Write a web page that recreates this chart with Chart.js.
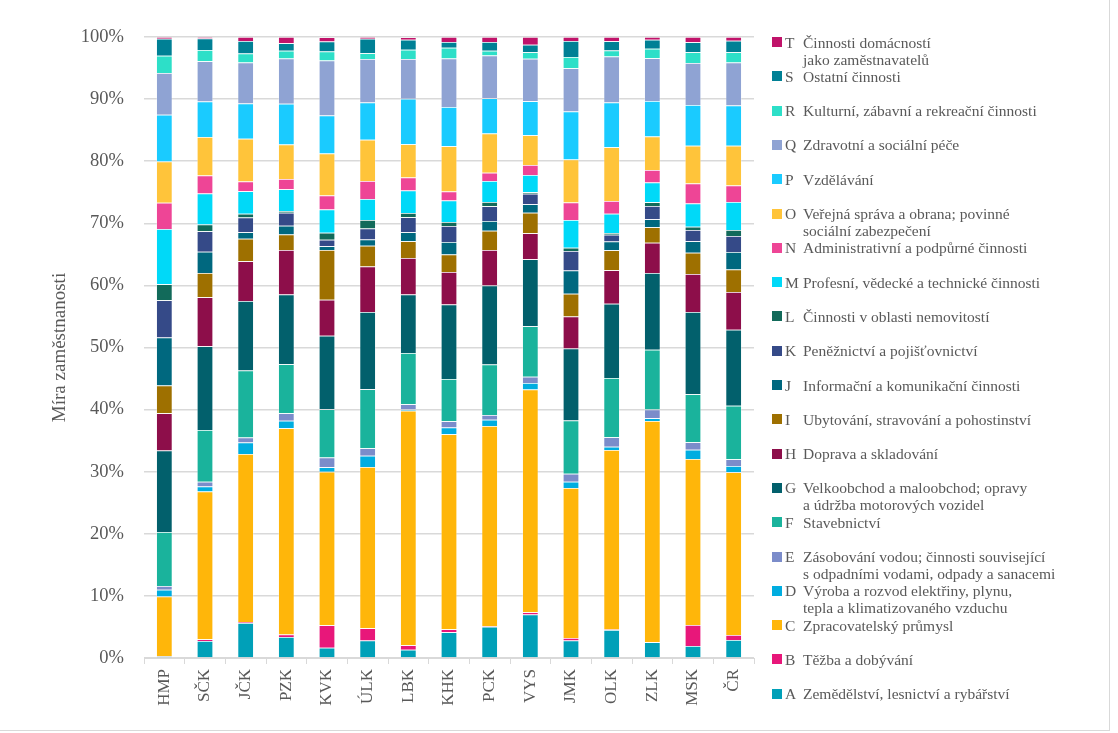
<!DOCTYPE html>
<html>
<head>
<meta charset="utf-8">
<script src="https://cdn.jsdelivr.net/npm/chart.js@4"></script>
<style>
  body { margin: 0; background: #fff; }
  #wrap { position: relative; width: 1118px; height: 733px; overflow: hidden; }
  #frame { position: absolute; left: -1px; top: -1px; width: 1110px; height: 731px;
           border-right: 1px solid #d9d9d9; border-bottom: 1px solid #d9d9d9; }
  #legend { position: absolute; left: 772px; top: 0; font-family: 'Liberation Serif', serif;
            font-size: 15.5px; color: #595959; }
  .item { position: absolute; left: 0; width: 335px; line-height: 17px; white-space: nowrap; }
  .sw { position: absolute; left: 0; top: 3.5px; width: 10px; height: 10px; }
  .code { position: absolute; left: 13px; top: 0; }
  .desc { position: absolute; left: 31px; top: 0; }
</style>
</head>
<body>
<div id="wrap">
  <canvas id="graf" width="1118" height="733"></canvas>
  <div id="frame"></div>
  <div id="legend"></div>
</div>
<script>
// kraje
var kraje = ['HMP', 'SČK', 'JČK', 'PZK', 'KVK', 'ÚLK', 'LBK', 'KHK', 'PCK', 'VYS', 'JMK', 'OLK', 'ZLK', 'MSK', 'ČR'];

// podíl zaměstnaných podle sekcí CZ-NACE (%)
var secA = [0.25, 2.75, 5.65, 3.4, 1.67, 2.8, 1.34, 4.14, 5.05, 7.0, 2.8, 4.52, 2.53, 1.94, 2.9];
var secB = [0.05, 0.25, 0.15, 0.4, 3.6, 1.98, 0.7, 0.48, 0.05, 0.37, 0.43, 0.05, 0.05, 3.38, 0.81];
var secC = [9.6, 23.8, 27.05, 33.2, 24.73, 25.97, 37.76, 31.4, 32.27, 35.86, 24.14, 28.93, 35.59, 26.72, 26.19];
var secD = [1.1, 0.8, 1.85, 1.2, 0.7, 1.83, 0.2, 1.1, 1.0, 1.07, 1.02, 0.53, 0.43, 1.51, 1.01];
var secE = [0.6, 0.8, 0.8, 1.2, 1.6, 1.2, 0.86, 1.0, 0.75, 0.97, 1.29, 1.51, 1.4, 1.18, 1.08];
var secF = [8.7, 8.3, 10.8, 7.9, 7.75, 9.5, 8.24, 6.8, 8.15, 8.17, 8.55, 9.56, 9.62, 7.74, 8.61];
var secG = [13.1, 13.5, 11.2, 11.25, 11.85, 12.42, 9.45, 12.0, 12.7, 10.76, 11.6, 11.94, 12.37, 13.23, 12.25];
var secH = [6.0, 7.9, 6.4, 7.15, 5.8, 7.35, 5.85, 5.25, 5.75, 4.2, 5.16, 5.38, 4.89, 6.13, 6.07];
var secI = [4.5, 3.9, 3.6, 2.5, 8.0, 3.35, 2.7, 2.8, 3.07, 3.3, 3.66, 3.23, 2.47, 3.44, 3.66];
var secJ = [7.7, 3.4, 1.05, 1.4, 0.6, 1.0, 1.45, 2.0, 1.6, 1.35, 3.76, 1.4, 1.3, 1.83, 2.8];
var secK = [6.0, 3.3, 2.4, 2.1, 1.06, 1.75, 2.42, 2.6, 2.37, 1.7, 3.12, 1.1, 2.15, 1.82, 2.58];
var secL = [2.6, 1.1, 0.6, 0.3, 1.1, 1.4, 0.7, 0.65, 0.65, 0.27, 0.54, 0.27, 0.6, 0.54, 0.96];
var secM = [8.9, 5.0, 3.6, 3.5, 3.75, 3.35, 3.6, 3.45, 3.4, 2.75, 4.46, 3.12, 3.16, 3.71, 4.52];
var secN = [4.2, 2.9, 1.6, 1.65, 2.25, 2.9, 2.1, 1.45, 1.34, 1.6, 2.8, 2.04, 2.04, 3.23, 2.64];
var secO = [6.65, 6.2, 6.85, 5.55, 6.8, 6.65, 5.37, 7.3, 6.33, 4.8, 6.94, 8.66, 5.38, 6.07, 6.39];
var secP = [7.55, 5.7, 5.7, 6.55, 6.1, 6.0, 7.3, 6.3, 5.66, 5.48, 7.73, 7.2, 5.7, 6.56, 6.51];
var secQ = [6.7, 6.5, 6.6, 7.3, 8.85, 7.0, 6.4, 7.8, 6.9, 6.83, 6.95, 7.42, 6.88, 6.77, 6.92];
var secR = [2.8, 1.8, 1.45, 1.25, 1.45, 0.95, 1.5, 1.75, 0.75, 1.08, 1.82, 0.97, 1.56, 1.73, 1.63];
var secS = [2.7, 1.85, 2.0, 1.2, 1.6, 2.3, 1.6, 0.94, 1.4, 1.18, 2.58, 1.5, 1.45, 1.61, 1.87];
var secT = [0.3, 0.25, 0.65, 1.0, 0.7, 0.3, 0.43, 0.8, 0.8, 1.24, 0.65, 0.65, 0.43, 0.86, 0.6];

var kody = ['A', 'B', 'C', 'D', 'E', 'F', 'G', 'H', 'I', 'J', 'K', 'L', 'M', 'N', 'O', 'P', 'Q', 'R', 'S', 'T'];
var nazvy = [
    ['Zemědělství, lesnictví a rybářství'],
    ['Těžba a dobývání'],
    ['Zpracovatelský průmysl'],
    ['Výroba a rozvod elektřiny, plynu,', 'tepla a klimatizovaného vzduchu'],
    ['Zásobování vodou; činnosti související', 's odpadními vodami, odpady a sanacemi'],
    ['Stavebnictví'],
    ['Velkoobchod a maloobchod; opravy', 'a údržba motorových vozidel'],
    ['Doprava a skladování'],
    ['Ubytování, stravování a pohostinství'],
    ['Informační a komunikační činnosti'],
    ['Peněžnictví a pojišťovnictví'],
    ['Činnosti v oblasti nemovitostí'],
    ['Profesní, vědecké a technické činnosti'],
    ['Administrativní a podpůrné činnosti'],
    ['Veřejná správa a obrana; povinné', 'sociální zabezpečení'],
    ['Vzdělávání'],
    ['Zdravotní a sociální péče'],
    ['Kulturní, zábavní a rekreační činnosti'],
    ['Ostatní činnosti'],
    ['Činnosti domácností', 'jako zaměstnavatelů']
];
var barvy = ['#00a0b8', '#e8177a', '#ffb60a', '#00ade0', '#7b8cca', '#1ab39c', '#02606c', '#8d0e4a', '#9e7000', '#00687f',
             '#354a88', '#126a5a', '#00d9f8', '#ee4596', '#ffc43a', '#1acbff', '#8fa3d3', '#2ddfc8', '#008095', '#c0136a'];
var hodnoty = [secA, secB, secC, secD, secE, secF, secG, secH, secI, secJ,
               secK, secL, secM, secN, secO, secP, secQ, secR, secS, secT];

var pismo = "'Liberation Serif', serif";
var seda = '#595959';

var datasets = [];
for (var i = 0; i < kody.length; i++) {
    datasets.push({
        label: kody[i] + '  ' + nazvy[i].join(' '),
        data: hodnoty[i],
        backgroundColor: barvy[i],
        borderColor: 'rgba(255,255,255,0.45)',
        borderWidth: 0.75,
        barPercentage: 0.4,
        categoryPercentage: 1.0
    });
}

/******Graf******/
var ctx = document.getElementById('graf').getContext('2d');
var graf = new Chart(ctx, {
    type: 'bar',
    data: { labels: kraje, datasets: datasets },
    options: {
        responsive: false,
        animation: false,
        layout: { padding: { left: 0, top: 37, right: 364, bottom: 0 } },
        plugins: {
            legend: { display: false },
            tooltip: { enabled: false }
        },
        scales: {
            x: {
                stacked: true,
                afterFit: function(scale) { scale.height = 75; },
                grid: { display: true, drawOnChartArea: false, drawTicks: true, tickLength: 6, color: '#d9d9d9', offset: true },
                border: { display: true, color: '#d9d9d9' },
                ticks: { minRotation: 90, maxRotation: 90, padding: 5, color: seda, font: { family: pismo, size: 17 } }
            },
            y: {
                stacked: true,
                min: 0,
                max: 100,
                afterFit: function(scale) { scale.width = 144; },
                grid: { color: '#d9d9d9', lineWidth: 1.5, drawTicks: false },
                border: { display: false },
                ticks: {
                    stepSize: 10,
                    padding: 20,
                    color: seda,
                    font: { family: pismo, size: 18.5 },
                    callback: function(v) { return v + '%'; }
                },
                title: {
                    display: true,
                    text: 'Míra zaměstnanosti',
                    color: seda,
                    font: { family: pismo, size: 19 },
                    padding: { top: 49, bottom: 0 }
                }
            }
        }
    }
});

/******Legenda******/
var leg = document.getElementById('legend');
for (var j = kody.length - 1; j >= 0; j--) {
    var poradi = kody.length - 1 - j;
    var stred = 42 + poradi * 34.3;
    var el = document.createElement('div');
    el.className = 'item';
    el.style.top = (stred - 8.5) + 'px';
    el.innerHTML = '<span class="sw" style="background:' + barvy[j] + '"></span>' +
                   '<span class="code">' + kody[j] + '</span>' +
                   '<span class="desc">' + nazvy[j].join('<br>') + '</span>';
    leg.appendChild(el);
}
</script>
</body>
</html>
